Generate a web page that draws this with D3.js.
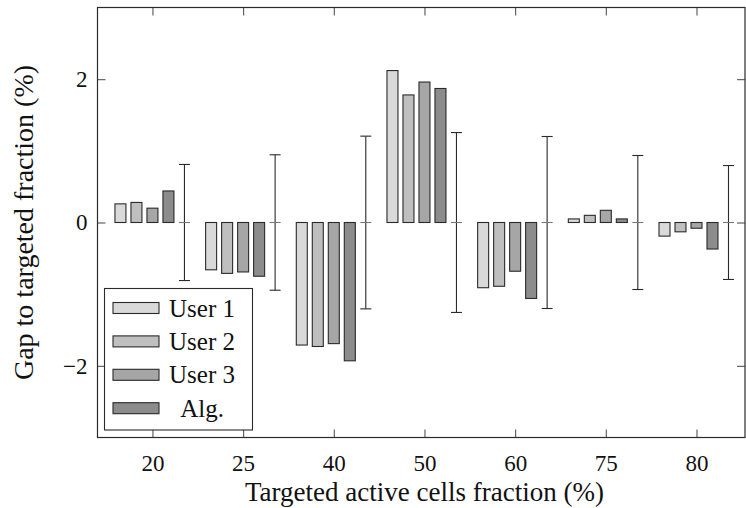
<!DOCTYPE html>
<html>
<head>
<meta charset="utf-8">
<script src="https://cdn.jsdelivr.net/npm/d3@7"></script>
<style>
  body { margin: 0; background: #fff; }
  svg text { font-family: "Liberation Serif", "DejaVu Serif", serif; fill: #111; }
</style>
</head>
<body>
<div class="chart"></div>
<script>
// data
const categories = ['20', '25', '40', '50', '60', '75', '80'];
const seriesNames = ['User 1', 'User 2', 'User 3', 'Alg.'];
const user1 = [0.26, -0.66, -1.71, 2.12, -0.91, 0.05, -0.19];
const user2 = [0.28, -0.71, -1.73, 1.78, -0.89, 0.10, -0.13];
const user3 = [0.20, -0.69, -1.69, 1.96, -0.68, 0.17, -0.08];
const alg   = [0.44, -0.75, -1.93, 1.87, -1.06, 0.05, -0.37];
const errHalf = [0.81, 0.945, 1.205, 1.255, 1.2, 0.935, 0.795];
const yTicks = [-2, 0, 2];
const fills = ['#d9d9d9', '#bfbfbf', '#a6a6a6', '#8c8c8c'];

const series = [user1, user2, user3, alg];

const svg_width = 746, svg_height = 508;
const margin = {top: 7.5, left: 97.5, right: 1, bottom: 70.5};
const width = svg_width - margin.left - margin.right;
const height = svg_height - margin.top - margin.bottom;

const svg = d3.select('.chart').append('svg')
    .attr('width', svg_width).attr('height', svg_height);
const g = svg.append('g')
    .attr('transform', `translate(${margin.left},${margin.top})`);

// category index -> px (axis is enlarged on both sides)
const xScale = d3.scaleLinear().domain([-0.606, 6.535]).range([0, width]);
const yScale = d3.scaleLinear().domain([-3, 3]).range([height, 0]);

const barStep = 16, barW = 11;   // 4 bars + error bar, centred on 3rd bar
const ink = '#2a2a2a';

// bars
series.forEach((vals, s) => {
  g.selectAll('.bar-' + s)
    .data(vals).enter()
    .append('rect')
      .attr('class', 'bar-' + s)
      .attr('x', (d, i) => xScale(i) + (s - 2) * barStep - barW / 2)
      .attr('y', d => yScale(Math.max(d, 0)))
      .attr('width', barW)
      .attr('height', d => Math.abs(yScale(d) - yScale(0)))
      .style('fill', fills[s])
      .style('stroke', ink)
      .style('stroke-width', 1.1);
});

// error bars (5th slot)
const eb = g.selectAll('.err').data(errHalf).enter()
  .append('g').attr('class', 'err')
  .attr('transform', (d, i) => `translate(${xScale(i) + 2 * barStep},0)`);
eb.append('line')
  .attr('x1', 0).attr('x2', 0)
  .attr('y1', d => yScale(d)).attr('y2', d => yScale(-d))
  .style('stroke', ink).style('stroke-width', 1.1);
eb.append('line')
  .attr('x1', -barW / 2).attr('x2', barW / 2)
  .attr('y1', d => yScale(d)).attr('y2', d => yScale(d))
  .style('stroke', ink).style('stroke-width', 1.1);
eb.append('line')
  .attr('x1', -barW / 2).attr('x2', barW / 2)
  .attr('y1', d => yScale(-d)).attr('y2', d => yScale(-d))
  .style('stroke', ink).style('stroke-width', 1.1);
eb.append('line')
  .attr('x1', -barW / 2).attr('x2', barW / 2)
  .attr('y1', yScale(0)).attr('y2', yScale(0))
  .style('stroke', '#777').style('stroke-width', 1.1);

// axes (ticks inward, on all four sides)
const idx = categories.map((d, i) => i);
const xAxis = d3.axisBottom(xScale).tickValues(idx)
  .tickFormat(i => categories[i]).tickSizeInner(-8).tickSizeOuter(0).tickPadding(17);
const xAxisTop = d3.axisTop(xScale).tickValues(idx)
  .tickFormat('').tickSizeInner(-8).tickSizeOuter(0);
const yAxis = d3.axisLeft(yScale).tickValues(yTicks)
  .tickFormat(d => d < 0 ? '\u2212' + Math.abs(d) : d)
  .tickSizeInner(-8).tickSizeOuter(0).tickPadding(10);
const yAxisRight = d3.axisRight(yScale).tickValues(yTicks)
  .tickFormat('').tickSizeInner(-8).tickSizeOuter(0);

const axes = [
  g.append('g').attr('transform', `translate(0,${height})`).call(xAxis),
  g.append('g').call(xAxisTop),
  g.append('g').call(yAxis),
  g.append('g').attr('transform', `translate(${width},0)`).call(yAxisRight)
];
axes.forEach(a => {
  a.select('.domain').remove();
  a.selectAll('.tick line').style('stroke', '#555').style('stroke-width', 1.1);
  a.selectAll('text').style('font-size', '23px')
    .style('font-family', '"Liberation Serif", serif').attr('fill', '#111');
});

// legend
const legend = g.append('g').attr('class', 'legend')
  .attr('transform', `translate(${104.5 - margin.left},${288.5 - margin.top})`);
legend.append('rect')
  .attr('width', 148).attr('height', 141.5)
  .style('fill', '#fff').style('stroke', ink).style('stroke-width', 1.1);
const entries = legend.selectAll('.entry').data(seriesNames).enter()
  .append('g').attr('class', 'entry')
  .attr('transform', (d, i) => `translate(0,${19.5 + i * 33.4})`);
entries.append('rect')
  .attr('x', 8.5).attr('y', -5.5).attr('width', 46).attr('height', 11)
  .style('fill', (d, i) => fills[i]).style('stroke', ink).style('stroke-width', 1.1);
entries.append('text')
  .attr('x', 97.5).attr('y', 8.5)
  .style('text-anchor', 'middle').style('font-size', '25px')
  .text(d => d);

// frame drawn last
g.append('rect').attr('width', width).attr('height', height)
  .style('fill', 'none').style('stroke', ink).style('stroke-width', 1.2);

// axis titles
svg.append('text')
  .attr('x', margin.left + xScale(3)).attr('y', 501)
  .style('text-anchor', 'middle').style('font-size', '27px')
  .text('Targeted active cells fraction (%)');
svg.append('text')
  .attr('transform', `translate(33,${margin.top + yScale(0)}) rotate(-90)`)
  .style('text-anchor', 'middle').style('font-size', '28px')
  .text('Gap to targeted fraction (%)');
</script>
</body>
</html>
